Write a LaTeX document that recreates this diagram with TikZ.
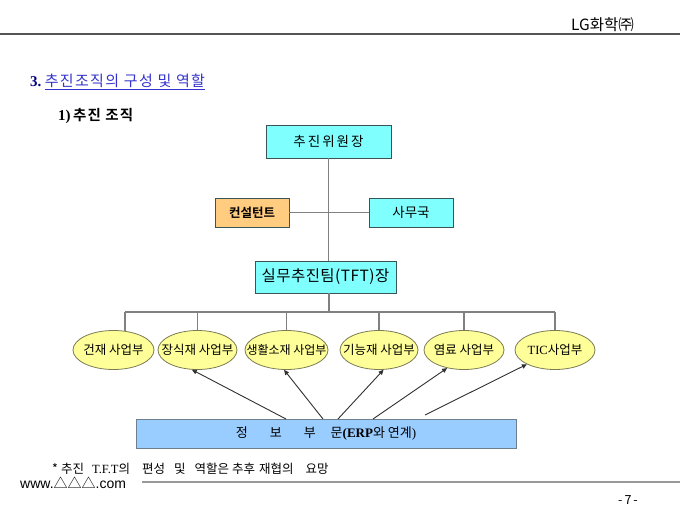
\documentclass[tikz,border=0pt]{standalone}
\usepackage{fontspec}
\setmainfont{Liberation Serif}
\newfontfamily\kr{Noto Sans CJK KR}[BoldFont={Noto Sans CJK KR Bold}]
\newfontfamily\arialf{Liberation Sans}
\newcommand\lsp[1]{\addfontfeature{LetterSpace=#1}}
\newcommand\zb[1]{\makebox[0pt]{#1}}
\usetikzlibrary{shapes.geometric,arrows.meta}
\definecolor{cyanfill}{HTML}{80FFFF}
\definecolor{orangefill}{HTML}{FFCC80}
\definecolor{boxline}{HTML}{3A5555}
\definecolor{ellfill}{HTML}{FFFF99}
\definecolor{ellline}{HTML}{7A7A55}
\definecolor{infofill}{HTML}{99CCFF}
\definecolor{infoline}{HTML}{6F7F8F}
\definecolor{connc}{HTML}{808080}
\definecolor{arrc}{HTML}{303030}
\definecolor{navy}{HTML}{000080}
\definecolor{titleblue}{HTML}{3333CC}
\definecolor{rulegray}{HTML}{555555}
\definecolor{footgray}{HTML}{999999}
\begin{document}
\begin{tikzpicture}[x=1pt,y=-1pt,
  box/.style={draw=boxline, line width=0.8pt, inner sep=0pt, fill=cyanfill,
    font=\kr\fontsize{13.5}{15}\selectfont},
  ell/.style={ellipse, draw=ellline, fill=ellfill, line width=0.8pt,
    minimum width=80pt, minimum height=39pt, inner sep=0pt,
    font=\kr\fontsize{12.5}{14}\selectfont},
  conn/.style={draw=connc, line width=1.3pt},
  arr/.style={draw=arrc, line width=0.9pt, -{Triangle[length=5pt,width=4.5pt]}},
  plain/.style={inner sep=0pt, anchor=west}]
\useasboundingbox (0,0) rectangle (680,510);

% header
\coordinate (hl) at (0,34);
\coordinate (hr) at (680,34);
\draw[rulegray, line width=1.2pt] (hl) -- (hr);
\node[inner sep=0pt, anchor=east, font=\kr\fontsize{15.5}{17}\selectfont] (lg) at (634,25) {LG화학㈜};

% titles
\node[plain] (ttl) at (30,82) {{\color{navy}\bfseries\fontsize{15}{17}\selectfont 3.} {\color{titleblue}\kr\fontsize{15}{17}\selectfont\lsp{9}\underline{추진조직의 구성 및 역할}}};
\node[plain] (sub) at (58,116) {{\bfseries\fontsize{15}{17}\selectfont 1)} {\kr\bfseries\fontsize{14.5}{17}\selectfont\lsp{8} 추진 조직}};

% boxes
\node[box, minimum width=125pt, minimum height=33pt] (top) at (328.5,141.5) {\lsp{15}추진위원장};
\node[box, fill=orangefill, minimum width=74pt, minimum height=29pt,
  font=\kr\bfseries\fontsize{12.5}{14}\selectfont] (con) at (252,212.5) {컨설턴트};
\node[box, minimum width=84pt, minimum height=29pt] (sam) at (411,212.5) {사무국};
\node[box, minimum width=141pt, minimum height=32pt,
  font=\kr\fontsize{15.5}{17}\selectfont] (tft) at (325.5,277) {\lsp{3}실무추진팀(TFT)장};

% ellipses
\node[ell, minimum width=81pt] (e1) at (113.5,350) {\zb{건재 사업부}};
\node[ell, minimum width=79pt] (e2) at (197.5,350) {\zb{장식재 사업부}};
\node[ell, minimum width=83pt, font=\kr\fontsize{12}{14}\selectfont] (e3) at (286.5,350) {\zb{생활소재 사업부}};
\node[ell, minimum width=78pt] (e4) at (379,350) {\zb{기능재 사업부}};
\node[ell] (e5) at (464,350) {\zb{염료 사업부}};
\node[ell] (e6) at (555,350) {\zb{{\rmfamily TIC}사업부}};

% info box
\node[draw=infoline, fill=infofill, line width=0.8pt, inner sep=0pt,
  minimum width=380pt, minimum height=29pt, font=\fontsize{13}{15}\selectfont] (info) at (326,433.5)
  {{\kr 정\hspace{22pt}보\hspace{22pt}부\hspace{15pt}문}{\bfseries(ERP}{\kr 와 연계})};

% tree connectors
\draw[conn] (top.south) -- (top.south |- tft.north);
\draw[conn] (con.east) -- (sam.west);
\coordinate (bus) at (329,312);
\draw[conn] (bus |- tft.south) -- (bus);
\draw[conn] (bus -| e1.59) -- (bus -| e6.north);
\draw[conn] (bus -| e1.59) -- (e1.59);
\foreach \e in {e2,e3,e4,e5,e6} \draw[conn] (bus -| \e.north) -- (\e.north);

% arrows
\coordinate (s1) at (286,419);
\coordinate (s2) at (323,419);
\coordinate (s3) at (338,419);
\coordinate (s4) at (373,419);
\coordinate (s5) at (425,415);
\draw[arr] (s1) -- (e2.254);
\draw[arr] (s2) -- (e3.263);
\draw[arr] (s3) -- (e4.283);
\draw[arr] (s4) -- (e5.227);
\draw[arr] (s5) -- (e6.207);

% footer
\node[plain, font=\kr\fontsize{12.5}{14}\selectfont] (note) at (52,469)
  {*\hspace{3pt}추진\hspace{8pt}{\rmfamily T.F.T}의\hspace{12pt}편성\hspace{9pt}및\hspace{9pt}역할은\hspace{3pt}추후\hspace{4pt}재협의\hspace{12pt}요망};
\node[plain, font=\arialf\fontsize{14}{16}\selectfont] (www) at (20,483) {www.{\kr △△△}.com};
\coordinate (fl) at (142,482);
\coordinate (fr) at (680,482);
\draw[footgray, line width=1.6pt] (fl) -- (fr);
\node[inner sep=0pt, font=\kr\fontsize{12.5}{14}\selectfont] (pg) at (628,500) {-\hspace{2pt}7\hspace{2pt}-};
\end{tikzpicture}
\end{document}
